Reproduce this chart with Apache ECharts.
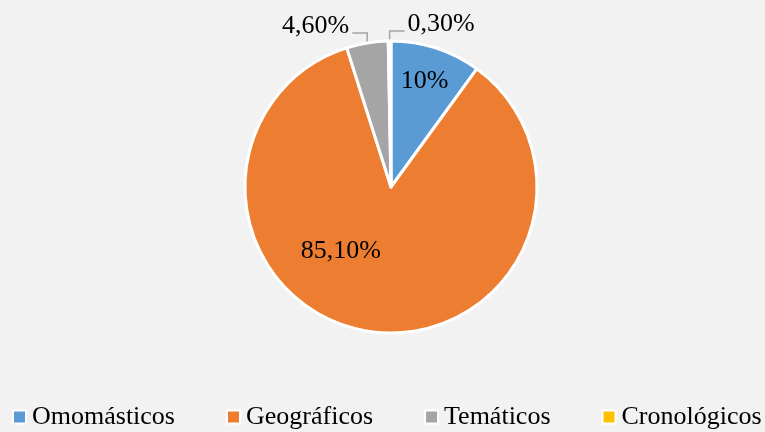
<!DOCTYPE html>
<html>
<head>
<meta charset="utf-8">
<script src="https://cdn.jsdelivr.net/npm/echarts@6/dist/echarts.min.js"></script>
<style>
  html, body { margin: 0; padding: 0; background: #f2f2f2; }
  #chart { width: 765px; height: 432px; }
</style>
</head>
<body>
<div id="chart"></div>
<script>
// Share of each index type (percent)
const categories = ['Omomásticos', 'Geográficos', 'Temáticos', 'Cronológicos'];
const values = [10, 85.1, 4.6, 0.3];
const labelTexts = ['10%', '85,10%', '4,60%', '0,30%'];
const colors = ['#5b9bd5', '#ed7d31', '#a5a5a5', '#ffc000'];

const SERIF = '"Liberation Serif", "Times New Roman", serif';

// small slices get an outside label with a leader line
const outside = [false, false, true, true];

const data = categories.map((name, i) => ({
  name: name,
  value: values[i],
  itemStyle: { color: colors[i] },
  label: { position: outside[i] ? 'outside' : 'inside' },
  labelLine: { show: outside[i] }
}));

// nudges for the inside labels
const insideShift = {
  0: { dx: 10, dy: -34 },
  1: { dx: -38, dy: -11 }
};

const chart = echarts.init(document.getElementById('chart'), null, { renderer: 'canvas' });
chart.setOption({
  backgroundColor: '#f2f2f2',
  animation: false,
  legend: {
    top: 404,
    left: 12,
    padding: 0,
    itemWidth: 13,
    itemHeight: 13,
    itemGap: 51,
    icon: 'rect',
    itemStyle: { borderColor: '#ffffff', borderWidth: 2 },
    textStyle: { fontFamily: SERIF, fontSize: 26, color: '#000', padding: [0, 0, 0, 1] },
    data: categories
  },
  series: [{
    type: 'pie',
    center: [391, 187],
    radius: 146,
    startAngle: 90,
    clockwise: true,
    avoidLabelOverlap: false,
    itemStyle: { borderColor: '#ffffff', borderWidth: 3 },
    label: {
      fontFamily: SERIF,
      fontSize: 26,
      color: '#000',
      formatter: p => labelTexts[p.dataIndex]
    },
    labelLine: {
      length: 10,
      length2: 14,
      smooth: false,
      lineStyle: { color: '#a5a5a5', width: 1.5 }
    },
    labelLayout: function (p) {
      if (insideShift[p.dataIndex]) return insideShift[p.dataIndex];
      const pts = p.labelLinePoints;
      if (!pts) return {};
      const p0 = pts[0];
      const p1 = [p0[0], pts[1][1]];
      const dir = p.dataIndex === 3 ? 1 : -1;
      const p2 = [p1[0] + dir * 15, p1[1]];
      return {
        x: p2[0] + dir * 3,
        y: p2[1] - 7,
        align: dir > 0 ? 'left' : 'right',
        verticalAlign: 'middle',
        labelLinePoints: [p0, p1, p2]
      };
    },
    data: data
  }]
});
</script>
</body>
</html>
